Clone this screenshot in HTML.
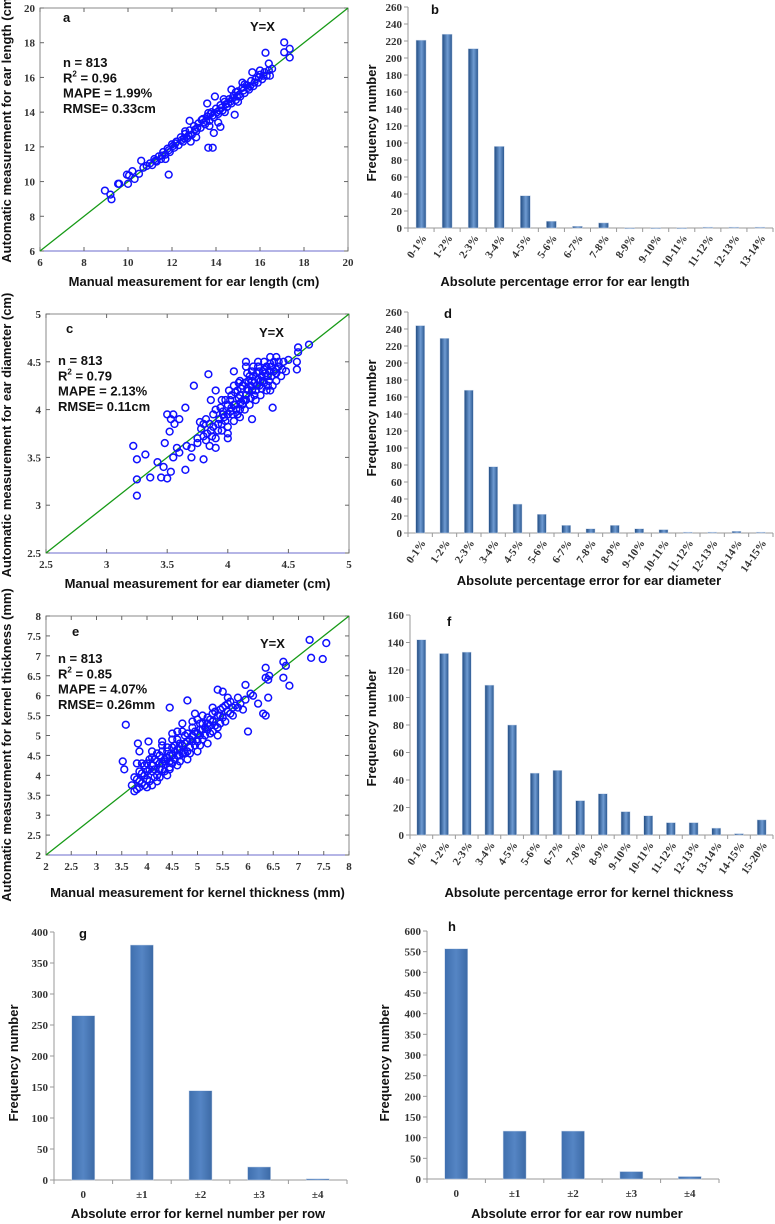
<!DOCTYPE html>
<html><head><meta charset="utf-8">
<style>
html,body{margin:0;padding:0;background:#fff;}
svg{display:block;}
.tk{font-family:"Liberation Serif",serif;font-weight:bold;font-size:11px;fill:#333;}
.tt{font-family:"Liberation Sans",sans-serif;font-weight:bold;font-size:12.5px;fill:#111;}
.st{font-family:"Liberation Sans",sans-serif;font-weight:bold;font-size:13px;fill:#111;}
</style></head>
<body>
<svg id="fig" width="775" height="1224" viewBox="0 0 775 1224" xmlns="http://www.w3.org/2000/svg">
<defs>
<linearGradient id="bg" x1="0" x2="1" y1="0" y2="0">
<stop offset="0" stop-color="#1f4a80"/><stop offset="0.55" stop-color="#6f9bd2"/><stop offset="1" stop-color="#2a578f"/>
</linearGradient>
<linearGradient id="bg2" x1="0" x2="1" y1="0" y2="0">
<stop offset="0" stop-color="#3f6fae"/><stop offset="0.5" stop-color="#5585c4"/><stop offset="1" stop-color="#3c6aa6"/>
</linearGradient>
</defs>
</svg>
<script>
// ---------- data ----------
const histBCats = ["0-1%","1-2%","2-3%","3-4%","4-5%","5-6%","6-7%","7-8%","8-9%","9-10%","10-11%","11-12%","12-13%","13-14%"];
const histBVals = [221,228,211,96,38,8,2,6,0,0,0,1,1,1];
const histDCats = ["0-1%","1-2%","2-3%","3-4%","4-5%","5-6%","6-7%","7-8%","8-9%","9-10%","10-11%","11-12%","12-13%","13-14%","14-15%"];
const histDVals = [244,229,168,78,34,22,9,5,9,5,4,1,1,2,1];
const histFCats = ["0-1%","1-2%","2-3%","3-4%","4-5%","5-6%","6-7%","7-8%","8-9%","9-10%","10-11%","11-12%","12-13%","13-14%","14-15%","15-20%"];
const histFVals = [142,132,133,109,80,45,47,25,30,17,14,9,9,5,1,11];
const histGCats = ["0","±1","±2","±3","±4"];
const histGVals = [265,379,144,21,2];
const histHCats = ["0","±1","±2","±3","±4"];
const histHVals = [557,116,116,18,6];
const ticksB = [0,20,40,60,80,100,120,140,160,180,200,220,240,260];
const ticksF = [0,20,40,60,80,100,120,140,160];
const ticksG = [0,50,100,150,200,250,300,350,400];
const ticksH = [0,50,100,150,200,250,300,350,400,450,500,550,600];
const ticksA = [6,8,10,12,14,16,18,20];
const ticksC = [2.5,3,3.5,4,4.5,5];
const ticksE = [2,2.5,3,3.5,4,4.5,5,5.5,6,6.5,7,7.5,8];

const ptsA = [[8.95,9.48],[9.2,9.25],[9.25,8.98],[9.55,9.87],[9.6,9.87],[9.95,10.4],[10.0,9.87],[10.05,10.35],[10.2,10.6],[10.3,10.15],[10.5,10.45],[10.6,11.2],[10.7,10.8],[10.85,10.9],[11.85,10.4],[13.65,11.95],[13.85,11.95],[13.9,12.8],[14.2,13.15],[14.85,13.85],[14.1,13.4],[13.6,14.5],[13.95,14.9],[16.25,17.42],[16.4,16.8],[17.1,18.02],[17.1,17.45],[17.35,17.65],[17.35,17.15],[16.45,16.1],[16.55,16.5],[13.1,12.55],[12.85,12.3],[12.8,13.5],[11.7,11.3],
[11.0,11.05],[11.1,10.95],[11.2,11.3],[11.3,11.15],[11.4,11.45],[11.5,11.3],[11.6,11.7],[11.7,11.55],[11.8,11.9],[11.9,11.7],[12.0,12.15],[12.1,11.95],[12.2,12.3],[12.3,12.1],[12.4,12.55],[12.5,12.3],[12.6,12.75],[12.7,12.5],[12.8,12.95],[12.9,12.7],[13.0,13.2],[13.1,12.9],[13.2,13.35],[13.3,13.1],[13.4,13.6],[13.5,13.3],[13.6,13.75],[13.7,13.5],[13.8,14.0],[13.9,13.7],[14.0,14.2],[14.1,13.9],[14.2,14.4],[14.3,14.1],[14.4,14.6],[14.5,14.3],[14.6,14.75],[14.7,14.5],[14.8,14.95],[14.9,14.7],[15.0,15.2],[15.1,14.9],[15.2,15.4],[15.3,15.1],[15.4,15.55],[15.5,15.3],[15.6,15.8],[15.7,15.5],[15.8,15.9],[15.9,15.7],[16.0,16.15],[16.1,15.9],[16.2,16.3],[16.3,16.1],[16.4,16.4],[12.05,12.05],[12.55,12.5],[13.05,13.0],[13.55,13.5],[14.05,14.0],[14.55,14.5],[15.05,15.0],[15.55,15.5],[13.75,13.9],[14.25,14.25],[14.75,14.8],[15.65,16.3],[16.0,16.4],[15.2,15.7],[14.7,15.3],
[11.25,11.2],[11.55,11.5],[11.85,11.8],[12.15,12.2],[12.45,12.4],[12.75,12.65],[13.15,13.1],[13.45,13.4],[13.85,13.8],[14.15,14.1],[14.45,14.45],[14.65,14.6],[14.95,14.9],[15.25,15.25],[15.45,15.4],[15.75,15.7],[15.95,16.0],[16.15,16.1],[13.35,13.55],[13.65,13.95],[14.35,14.75],[14.9,15.15],[15.3,15.6],[12.6,12.9],[13.7,13.2],[14.4,14.0],[15.0,14.6]];
const ptsC = [[3.22,3.62],[3.25,3.48],[3.25,3.27],[3.25,3.1],[3.32,3.53],[3.36,3.29],[3.45,3.29],[3.47,3.4],[3.48,3.65],[3.5,3.95],[3.5,3.28],[3.52,3.77],[3.53,3.9],[3.55,3.95],[3.56,3.85],[3.6,3.9],[3.58,3.6],[3.65,3.37],[3.65,4.02],[3.72,4.25],[3.77,3.87],[3.84,4.37],[3.86,4.1],[3.9,4.2],[4.05,4.4],[4.15,4.5],[4.35,4.55],[4.37,4.02],[4.4,4.55],[4.58,4.65],[4.58,4.6],[4.67,4.68],[4.57,4.42],[4.57,4.5],[3.8,3.48],[3.53,3.35],[3.55,3.5],[3.42,3.45],[3.6,3.55],[3.66,3.62],[3.7,3.5],[3.75,3.7],[4.0,3.75],[4.2,3.9],[4.35,4.2],
[3.75,3.65],[3.78,3.8],[3.8,3.72],[3.82,3.9],[3.85,3.62],[3.86,3.78],[3.88,3.95],[3.9,3.7],[3.92,3.85],[3.94,4.02],[3.95,3.78],[3.97,3.92],[3.98,4.1],[4.0,3.82],[4.02,3.98],[4.03,4.15],[4.05,3.88],[4.06,4.05],[4.08,4.2],[4.1,3.92],[4.11,4.08],[4.12,4.25],[4.14,4.0],[4.15,4.15],[4.17,4.3],[4.18,4.05],[4.2,4.2],[4.21,4.35],[4.23,4.1],[4.24,4.25],[4.26,4.4],[4.27,4.15],[4.29,4.3],[4.3,4.42],[4.32,4.2],[4.33,4.35],[4.35,4.48],[4.37,4.25],[4.38,4.4],[4.4,4.3],[4.42,4.45],[4.44,4.35],[4.46,4.5],[4.48,4.4],[4.5,4.52],[3.88,3.82],[3.96,3.98],[4.04,3.95],[4.09,4.12],[4.13,4.1],[4.19,4.12],[4.22,4.28],[4.28,4.22],[4.34,4.3],[4.0,4.05],[4.07,4.0],[3.93,3.9],[4.16,4.22],[4.25,4.32],[4.31,4.38],[3.83,3.75],[3.9,3.6],[4.0,3.7],[3.7,3.6],[4.1,4.3],[4.2,4.4],[4.15,4.45],[4.3,4.5],[4.05,4.25],[3.8,3.85],[3.95,4.1],[4.1,4.0],[4.25,4.45],[4.4,4.42],
[3.85,3.85],[3.9,4.0],[3.95,3.85],[4.0,3.95],[4.02,4.1],[4.05,4.05],[4.08,3.95],[4.1,4.15],[4.12,4.05],[4.15,4.1],[4.17,4.2],[4.18,4.35],[4.2,4.3],[4.22,4.15],[4.24,4.38],[4.26,4.25],[4.28,4.35],[4.3,4.28],[4.32,4.45],[4.34,4.4],[4.36,4.35],[4.38,4.5],[4.4,4.38],[4.42,4.5],[4.45,4.42],[3.98,3.88],[4.03,4.02],[4.06,4.18],[4.11,4.22],[4.14,4.28],[4.19,4.25],[4.23,4.2],[4.27,4.3],[4.29,4.4],[4.33,4.25],[3.92,3.78],[3.87,3.72],[3.82,3.68],[3.96,3.95],[4.01,4.2],[4.09,4.28],[4.16,4.38],[4.21,4.45],[4.25,4.5],[4.36,4.45]];
const ptsE = [[3.58,5.27],[3.52,4.35],[3.55,4.15],[3.82,4.8],[3.85,4.6],[4.03,4.85],[4.45,5.7],[4.8,5.88],[4.95,5.55],[5.4,6.15],[5.5,6.1],[5.95,6.27],[6.0,5.1],[6.1,6.0],[6.2,5.8],[6.3,5.55],[6.35,5.5],[6.35,6.7],[6.35,6.45],[6.4,5.95],[6.42,6.5],[6.4,6.4],[6.7,6.85],[6.75,6.75],[6.7,6.45],[6.82,6.25],[7.22,7.4],[7.25,6.95],[7.48,6.92],[7.55,7.32],[6.05,6.05],[5.85,5.8],
[3.7,3.75],[3.75,3.95],[3.8,3.65],[3.85,4.1],[3.9,3.8],[3.95,4.25],[4.0,3.9],[4.05,4.15],[4.1,3.75],[4.15,4.4],[4.2,4.0],[4.25,4.3],[4.3,4.6],[4.35,4.1],[4.4,4.45],[4.45,4.2],[4.5,4.7],[4.55,4.4],[4.6,4.9],[4.65,4.5],[4.7,4.75],[4.75,5.0],[4.8,4.6],[4.85,4.9],[4.9,5.2],[4.95,4.75],[5.0,5.05],[5.05,5.3],[5.1,4.9],[5.15,5.2],[5.2,5.45],[5.25,5.05],[5.3,5.35],[5.35,5.6],[5.4,5.2],[5.45,5.5],[5.5,5.7],[5.55,5.35],[5.6,5.6],[5.65,5.85],[5.7,5.5],[5.75,5.75],[5.8,5.95],[5.9,5.65],[5.95,5.9],[3.9,4.05],[4.0,4.3],[4.1,4.1],[4.2,4.55],[4.3,4.3],[4.4,4.7],[4.5,4.5],[4.6,4.65],[4.7,5.1],[4.8,4.85],[4.9,5.0],[5.0,5.4],[5.1,5.15],[5.2,5.3],[5.3,5.1],[5.4,5.5],[4.0,3.7],[4.2,3.85],[4.4,4.0],[4.6,4.25],[4.8,4.4],[5.0,4.6],[5.2,4.8],[5.4,5.0],[3.8,4.3],[4.1,4.6],[4.3,4.85],[4.5,5.05],[4.7,5.3],[5.6,5.95],[3.75,3.6],[3.85,3.7],[4.15,3.95],[4.25,4.15],[4.45,4.35],[3.95,4.0],[4.05,3.85],[4.35,4.4],[4.55,4.6],[4.65,4.8],[4.75,4.55],[5.05,5.0],[5.25,5.25],[5.45,5.3],[5.65,5.55],
[4.0,4.1],[4.05,4.4],[4.1,4.25],[4.15,4.15],[4.2,4.35],[4.25,4.5],[4.3,4.15],[4.35,4.35],[4.4,4.6],[4.45,4.5],[4.5,4.3],[4.55,4.75],[4.6,4.5],[4.65,4.65],[4.7,4.55],[4.75,4.8],[4.8,5.05],[4.85,4.7],[4.9,4.85],[4.95,5.1],[5.0,4.85],[5.05,5.15],[5.1,5.3],[5.15,5.0],[5.2,5.15],[5.25,5.4],[5.3,5.55],[5.35,5.25],[5.45,5.65],[5.5,5.45],[5.55,5.75],[5.6,5.8],[5.7,5.7],[5.8,5.7],[3.9,4.3],[3.95,3.75],[3.8,3.9],[3.85,3.85],[4.1,4.45],[4.3,4.75],[4.5,4.9],[4.6,5.1],[4.9,5.35],[5.1,5.5],[5.3,5.7],[4.25,3.95],[4.45,4.15],[4.65,4.35],[4.85,4.55],[5.05,4.75]];

// ---------- helpers ----------
const NS = "http://www.w3.org/2000/svg";
const svg = document.getElementById('fig');
function mk(tag, attrs, parent, text){
  const e = document.createElementNS(NS, tag);
  for (const k in attrs) e.setAttribute(k, attrs[k]);
  if (text !== undefined) e.textContent = text;
  (parent || svg).appendChild(e);
  return e;
}
function group(name){
  const g = mk('g', {});
  
  
  return g;
}
function lin(d0,d1,r0,r1){ return v => r0 + (v-d0)/(d1-d0)*(r1-r0); }

function scatter(o){
  const g = group(o.name);
  const sx = lin(o.xd[0], o.xd[1], o.x0, o.x1);
  const sy = lin(o.xd[0], o.xd[1], o.y1, o.y0);
  const frame = mk('rect', {x:o.x0, y:o.y0, width:o.x1-o.x0, height:o.y1-o.y0, fill:'none', stroke:'#888', 'stroke-width':1}, g);
  
  
  mk('line', {x1:o.x0, y1:o.y1, x2:o.x1, y2:o.y1, stroke:'#6b6bcc', 'stroke-width':1}, g);
  o.ticks.forEach(t => {
    const x = sx(t), y = sy(t);
    mk('line', {x1:x, y1:o.y1, x2:x, y2:o.y1-4, stroke:'#666'}, g);
    mk('line', {x1:x, y1:o.y0, x2:x, y2:o.y0+4, stroke:'#666'}, g);
    mk('line', {x1:o.x0, y1:y, x2:o.x0+4, y2:y, stroke:'#666'}, g);
    mk('line', {x1:o.x1, y1:y, x2:o.x1-4, y2:y, stroke:'#666'}, g);
    const xl = mk('text', {x:x, y:o.y1+15, 'text-anchor':'middle', class:'tk'}, g, String(t));
    
    
    const yl = mk('text', {x:o.x0-5, y:y+4, 'text-anchor':'end', class:'tk'}, g, String(t));
    
    
  });
  const diag = mk('line', {x1:sx(o.xd[0]), y1:sy(o.xd[0]), x2:sx(o.xd[1]), y2:sy(o.xd[1]), stroke:'#169a16', 'stroke-width':1.3}, g);
  
  
  o.pts.forEach(p => {
    const c = mk('circle', {cx:sx(p[0]), cy:sy(p[1]), r:3.4, fill:'none', stroke:'#1010ff', 'stroke-width':1.5}, g);
    
    
  });
  const pl = mk('text', {x:o.lab[0], y:o.lab[1], class:'st', 'font-size':14}, g, o.letter);
  
  
  const yx = mk('text', {x:o.yx[0], y:o.yx[1], class:'st'}, g, 'Y=X');
  
  
  o.stats.forEach((s,i) => {
    const t = mk('text', {x:o.st[0], y:o.st[1]+i*15.3, class:'st'}, g);
    
    
    if (s.indexOf('R2') === 0){
      t.textContent = 'R';
      mk('tspan', {'font-size':8, dy:-6}, t, '2');
      mk('tspan', {dy:6}, t, s.slice(2));
    } else t.textContent = s;
  });
  const xt = mk('text', {x:(o.x0+o.x1)/2, y:o.xtY, 'text-anchor':'middle', class:'st'}, g, o.xt);
  
  
  const yt = mk('text', {x:0, y:0, 'text-anchor':'middle', class:'st', 'font-size':12.5, transform:`translate(${o.ytX},${o.ytY}) rotate(-90)`}, g, o.yt);
  
  
}

function hist(o){
  const g = group(o.name);
  const sy = lin(0, o.ticks[o.ticks.length-1], o.y1, o.y0);
  const n = o.cats.length, cw = (o.x1-o.x0)/n;
  mk('line', {x1:o.x0, y1:o.y0, x2:o.x0, y2:o.y1, stroke:'#999'}, g);
  mk('line', {x1:o.x0, y1:o.y1, x2:o.x1, y2:o.y1, stroke:'#999'}, g);
  o.ticks.forEach(t => {
    const y = sy(t);
    mk('line', {x1:o.x0-4, y1:y, x2:o.x0, y2:y, stroke:'#999'}, g);
    const l = mk('text', {x:o.x0-6, y:y+4, 'text-anchor':'end', class:'tk', 'font-size':o.fs||11}, g, String(t));
    
    
  });
  for (let i=0;i<=n;i++) mk('line', {x1:o.x0+i*cw, y1:o.y1, x2:o.x0+i*cw, y2:o.y1+4, stroke:'#999'}, g);
  o.vals.forEach((v,i) => {
    const cx = o.x0 + (i+0.5)*cw;
    const y = sy(v);
    const b = mk('rect', {x:cx-o.bw/2, y:y, width:o.bw, height:Math.max(o.y1-y,0.8), fill:o.fill, stroke:'#c8d6ea', 'stroke-width':0.5}, g);
    
    
    let l;
    if (o.rot) {
      l = mk('text', {x:0, y:0, 'text-anchor':'end', class:'tk', 'font-size':10, transform:`translate(${cx+6},${o.y1+10}) rotate(-55)`}, g, o.cats[i]);
    } else {
      l = mk('text', {x:cx, y:o.y1+18, 'text-anchor':'middle', class:'tk', 'font-size':12}, g, o.cats[i]);
    }
    
    
  });
  const pl = mk('text', {x:o.lab[0], y:o.lab[1], class:'st', 'font-size':15}, g, o.letter);
  
  
  const xt = mk('text', {x:o.xtX, y:o.xtY, 'text-anchor':'middle', class:'st'}, g, o.xt);
  
  
  const yt = mk('text', {x:0, y:0, 'text-anchor':'middle', class:'st', transform:`translate(${o.ytX},${o.ytY}) rotate(-90)`}, g, 'Frequency number');
  
  
}

// ---------- panels ----------
scatter({name:'panel-a-ear-length-scatter', x0:40, x1:348, y0:8, y1:251, xd:[6,20], ticks:ticksA, pts:ptsA,
  letter:'a', lab:[63,22], yx:[250,31], st:[63,67], stats:['n = 813','R2 = 0.96','MAPE = 1.99%','RMSE= 0.33cm'],
  xt:'Manual measurement for ear length (cm)', xtY:286, yt:'Automatic measurement for ear length (cm)', ytX:11, ytY:128});
scatter({name:'panel-c-ear-diameter-scatter', x0:46, x1:349, y0:314, y1:553, xd:[2.5,5], ticks:ticksC, pts:ptsC,
  letter:'c', lab:[66,333], yx:[259,337], st:[58,365], stats:['n = 813','R2 = 0.79','MAPE = 2.13%','RMSE= 0.11cm'],
  xt:'Manual measurement for ear diameter (cm)', xtY:588, yt:'Automatic measurement for ear diameter (cm)', ytX:11, ytY:435});
scatter({name:'panel-e-kernel-thickness-scatter', x0:46, x1:349, y0:616, y1:855, xd:[2,8], ticks:ticksE, pts:ptsE,
  letter:'e', lab:[72,636], yx:[260,648], st:[58,663], stats:['n = 813','R2 = 0.85','MAPE = 4.07%','RMSE= 0.26mm'],
  xt:'Manual measurement for kernel thickness (mm)', xtY:897, yt:'Automatic measurement for kernel thickness (mm)', ytX:11, ytY:745});

hist({name:'panel-b-ear-length-error-histogram', x0:408, x1:773, y0:7, y1:228, ticks:ticksB, cats:histBCats, vals:histBVals, bw:10, fill:'url(#bg)', rot:true,
  letter:'b', lab:[431,14], xt:'Absolute percentage error for ear length', xtX:565, xtY:286, ytX:376, ytY:123});
hist({name:'panel-d-ear-diameter-error-histogram', x0:408, x1:773, y0:312, y1:533, ticks:ticksB, cats:histDCats, vals:histDVals, bw:9, fill:'url(#bg)', rot:true,
  letter:'d', lab:[444,318], xt:'Absolute percentage error for ear diameter', xtX:589, xtY:585, ytX:376, ytY:418});
hist({name:'panel-f-kernel-thickness-error-histogram', x0:410, x1:773, y0:615, y1:835, ticks:ticksF, cats:histFCats, vals:histFVals, bw:9, fill:'url(#bg)', rot:true,
  letter:'f', lab:[447,626], xt:'Absolute percentage error for kernel thickness', xtX:589, xtY:897, ytX:376, ytY:728});
hist({name:'panel-g-kernel-number-error-histogram', x0:54, x1:347, y0:932, y1:1180, ticks:ticksG, cats:histGCats, vals:histGVals, bw:23, fill:'url(#bg2)', rot:false,
  letter:'g', lab:[79,938], xt:'Absolute error for kernel number per row', xtX:198, xtY:1218, ytX:18, ytY:1063});
hist({name:'panel-h-ear-row-number-error-histogram', x0:427, x1:719, y0:931, y1:1179, ticks:ticksH, cats:histHCats, vals:histHVals, bw:23, fill:'url(#bg2)', rot:false,
  letter:'h', lab:[448,931], xt:'Absolute error for ear row number', xtX:577, xtY:1218, ytX:389, ytY:1063});
</script>
</body></html>
